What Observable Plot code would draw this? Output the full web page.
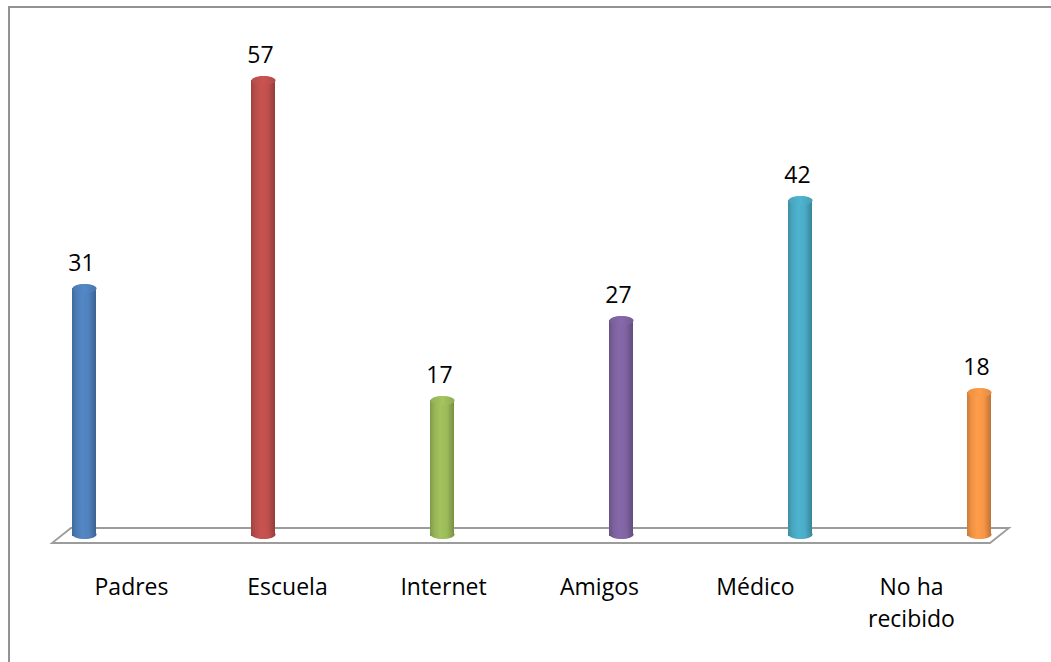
<!DOCTYPE html>
<html><head><meta charset="utf-8">
<script src="https://cdn.jsdelivr.net/npm/d3@7"></script>
<script src="https://cdn.jsdelivr.net/npm/@observablehq/plot@0.6"></script>
<style>
html,body{margin:0;padding:0;background:#fff;}
#wrap{position:relative;width:1051px;height:662px;overflow:hidden;}
#wrap svg{position:absolute;left:0;top:0;}
#border{position:absolute;left:8px;top:6px;width:1200px;height:800px;border-left:2px solid #929292;border-top:2px solid #929292;pointer-events:none;}
</style></head><body><div id="wrap"></div>
<script>
const categories = ["Padres", "Escuela", "Internet", "Amigos", "Médico", "No ha recibido"];
const tickLabels = ["Padres", "Escuela", "Internet", "Amigos", "Médico", "No ha\nrecibido"];
const values = [31, 57, 17, 27, 42, 18];
const colors = ["#4f81bd", "#c0504d", "#9bbb59", "#8064a2", "#4bacc6", "#f79646"];

const W = 1051, H = 662;
const data = categories.map((c, i) => ({category: c, value: values[i], i}));
const labelOf = new Map(categories.map((c, i) => [c, tickLabels[i]]));
const yScale = {domain: [0, 60], range: [536, 56]};
const FONT = "'Open Sans', sans-serif";

// ellipse symbol for cylinder caps
const ellipse = {
  draw(ctx) {
    const rx = 12, ry = 4.5, k = 0.5523;
    ctx.moveTo(-rx, 0);
    ctx.bezierCurveTo(-rx, -ry * k, -rx * k, -ry, 0, -ry);
    ctx.bezierCurveTo(rx * k, -ry, rx, -ry * k, rx, 0);
    ctx.bezierCurveTo(rx, ry * k, rx * k, ry, 0, ry);
    ctx.bezierCurveTo(-rx * k, ry, -rx, ry * k, -rx, 0);
    ctx.closePath();
  }
};

// floor / base platform drawn from the plot's scales
function floorMark(index, scales, values, dims) {
  const y0 = scales.y(0);
  const xl = dims.marginLeft, xr = dims.width - dims.marginRight;
  const depthX = 19, front = 7, back = -8;
  const p = d3.path();
  p.moveTo(xl, y0 + front);
  p.lineTo(xr, y0 + front);
  p.lineTo(xr + depthX, y0 + back);
  p.lineTo(xl + depthX, y0 + back);
  p.closePath();
  return d3.create("svg:path").attr("d", p.toString())
    .attr("fill", "#fff").attr("stroke", "#9c9c9c").attr("stroke-width", 1.8).node();
}

const plotB = Plot.plot({
  width: W, height: H,
  marginLeft: 52, marginRight: 61, marginTop: 20, marginBottom: 119,
  style: {background: "transparent", fontFamily: FONT},
  x: {type: "band", domain: categories, padding: 0, axis: null},
  y: {...yScale, axis: null},
  marks: [
    floorMark,
    Plot.axisX({anchor: "bottom", tickSize: 0, tickPadding: 29, fontSize: 23, lineHeight: 1.38,
      tickFormat: d => labelOf.get(d), fill: "#000"})
  ]
});

const plotA = Plot.plot({
  width: W, height: H,
  style: {background: "transparent", fontFamily: FONT},
  x: {type: "band", domain: categories, range: [-6.6, 1068.6], paddingInner: 0.866, paddingOuter: 0.433, align: 0.5, axis: null},
  y: {...yScale, axis: null},
  color: {type: "identity"},
  marks: [
    Plot.barY(data, {x: "category", y: "value", fill: d => `url(#cyl${d.i})`}),
    Plot.dot(data, {x: "category", y: 0, dy: -2, symbol: ellipse, r: 10, fill: d => `url(#cyl${d.i})`, stroke: null}),
    Plot.dot(data, {x: "category", y: "value", symbol: ellipse, r: 10, fill: d => `url(#top${d.i})`, stroke: null}),
    Plot.text(data, {x: "category", y: "value", text: d => String(d.value), dy: -25, dx: -3,
      lineAnchor: "middle", fontSize: 23, fill: "#000"})
  ]
});

// cylinder shading gradients
const defs = d3.select(plotA).insert("defs", ":first-child");
colors.forEach((c, i) => {
  const g = defs.append("linearGradient").attr("id", `cyl${i}`).attr("x1", 0).attr("x2", 1).attr("y1", 0).attr("y2", 0);
  [[0, d3.color(c).darker(0.55)], [0.18, d3.color(c).darker(0.1)], [0.42, d3.color(c).brighter(0.12)],
   [0.7, d3.color(c)], [1, d3.color(c).darker(0.75)]]
    .forEach(([o, col]) => g.append("stop").attr("offset", o).attr("stop-color", col.formatHex()));
  const t = defs.append("linearGradient").attr("id", `top${i}`).attr("x1", 0).attr("x2", 1).attr("y1", 0).attr("y2", 0);
  [[0, d3.color(c).darker(0.15)], [0.5, d3.color(c).brighter(0.15)], [1, d3.color(c).darker(0.25)]]
    .forEach(([o, col]) => t.append("stop").attr("offset", o).attr("stop-color", col.formatHex()));
});

const wrap = document.getElementById("wrap");
wrap.appendChild(plotB);
wrap.appendChild(plotA);
const border = document.createElement("div");
border.id = "border";
wrap.appendChild(border);
</script>
</body></html>
